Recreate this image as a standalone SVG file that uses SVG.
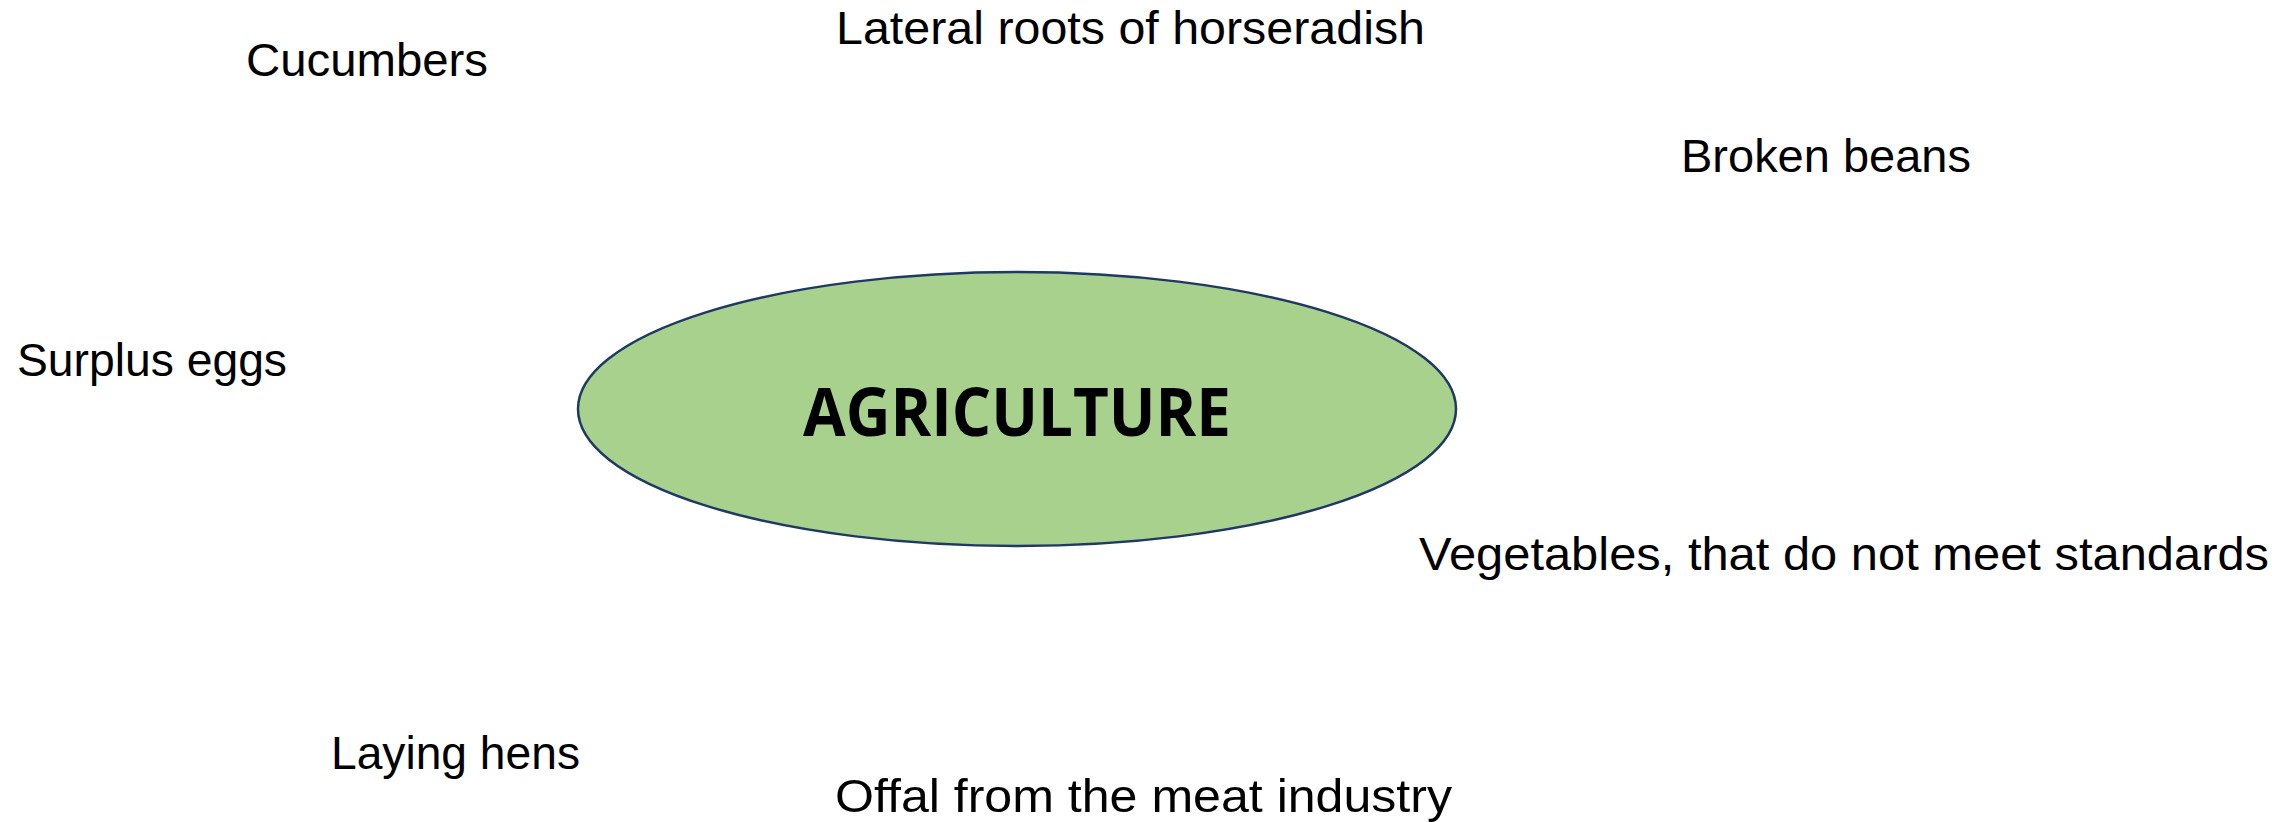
<svg xmlns="http://www.w3.org/2000/svg" width="2284" height="822" viewBox="0 0 2284 822">
<style>
.lbl{font-family:"Liberation Sans",Arial,sans-serif;font-size:46px;fill:#000;}
.title{font-family:"Open Sans","Noto Sans","Liberation Sans",sans-serif;font-size:66px;font-weight:bold;fill:#000;}
.ell{fill:#a9d18e;stroke:#1f3864;stroke-width:2.5;}
</style>
<rect width="2284" height="822" fill="#fff"/>
<g id="connectors"></g>
<g id="agriculture">
<ellipse class="ell" cx="1017" cy="409" rx="439" ry="137"/>
<text class="title" x="803" y="436" textLength="428" lengthAdjust="spacingAndGlyphs">AGRICULTURE</text>
</g>
<g id="cucumbers"><text class="lbl" x="246" y="76" textLength="242" lengthAdjust="spacingAndGlyphs">Cucumbers</text></g>
<g id="lateral-roots"><text class="lbl" x="836" y="44" textLength="589" lengthAdjust="spacingAndGlyphs">Lateral roots of horseradish</text></g>
<g id="broken-beans"><text class="lbl" x="1681" y="172" textLength="290" lengthAdjust="spacingAndGlyphs">Broken beans</text></g>
<g id="surplus-eggs"><text class="lbl" x="17" y="376" textLength="270" lengthAdjust="spacingAndGlyphs">Surplus eggs</text></g>
<g id="vegetables"><text class="lbl" x="1419" y="570" textLength="850" lengthAdjust="spacingAndGlyphs">Vegetables, that do not meet standards</text></g>
<g id="laying-hens"><text class="lbl" x="331" y="769" textLength="249" lengthAdjust="spacingAndGlyphs">Laying hens</text></g>
<g id="offal"><text class="lbl" x="835" y="812" textLength="617" lengthAdjust="spacingAndGlyphs">Offal from the meat industry</text></g>
</svg>
